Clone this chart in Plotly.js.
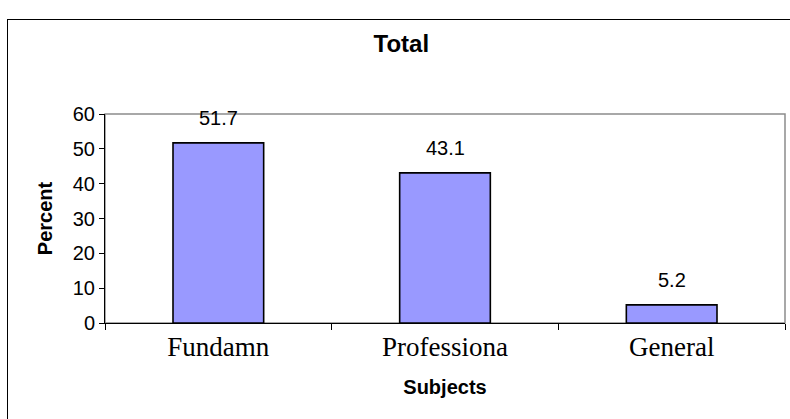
<!DOCTYPE html>
<html>
<head>
<meta charset="utf-8">
<script src="https://cdn.plot.ly/plotly-3.0.1.min.js"></script>
<style>
  html, body { margin: 0; padding: 0; background: #fff; }
  #wrap { position: relative; width: 790px; height: 419px; overflow: hidden; }
  #chart { width: 790px; height: 419px; }
  #frame { position: absolute; left: 7px; top: 19px; width: 900px; height: 500px; border: 1px solid #000; pointer-events: none; box-sizing: border-box; }
</style>
</head>
<body>
<div id="wrap">
  <div id="chart"></div>
  <div id="frame"></div>
</div>
<script>
const categories = ["Fundamn", "Professiona", "General"];
const percentValues = [51.7, 43.1, 5.2];
const valueLabels = ["51.7", "43.1", "5.2"];
const yTickValues = [0, 10, 20, 30, 40, 50, 60];

const SANS = "Liberation Sans, Arial, sans-serif";
const SERIF = "Liberation Serif, Times New Roman, serif";

const trace = {
  type: "bar",
  x: categories,
  y: percentValues,
  marker: { color: "#9999FF", line: { color: "#000000", width: 1.6 } },
  hoverinfo: "none"
};

const annotations = categories.map((c, i) => ({
  x: c, y: percentValues[i], xref: "x", yref: "y",
  text: valueLabels[i], showarrow: false,
  yanchor: "bottom", yshift: 12,
  font: { family: SANS, size: 20, color: "#000" }
}));

const layout = {
  width: 790, height: 419,
  margin: { l: 105, r: 5, t: 114, b: 96 },
  paper_bgcolor: "#ffffff",
  plot_bgcolor: "#ffffff",
  showlegend: false,
  bargap: 0.6,
  title: {
    text: "<b>Total</b>",
    font: { family: SANS, size: 24, color: "#000" },
    x: 0.508, xanchor: "center", y: 0.895, yanchor: "middle"
  },
  xaxis: {
    type: "category",
    showline: true, linecolor: "#000", linewidth: 1,
    ticks: "outside", tickson: "boundaries", ticklen: 6, tickcolor: "#000",
    showgrid: false, zeroline: false,
    tickfont: { family: SERIF, size: 27, color: "#000" },
    title: { text: "<b>Subjects</b>", font: { family: SANS, size: 20, color: "#000" }, standoff: 18 }
  },
  yaxis: {
    range: [0, 60], tickvals: yTickValues, ticktext: yTickValues.map(String),
    showline: true, linecolor: "#000", linewidth: 1,
    ticks: "outside", ticklen: 5, tickcolor: "#000",
    showgrid: false, zeroline: false,
    tickfont: { family: SANS, size: 20, color: "#000" },
    title: { text: "<b>Percent</b>", font: { family: SANS, size: 20, color: "#000" }, standoff: 14 }
  },
  shapes: [{
    type: "rect", xref: "paper", yref: "paper", x0: 0, x1: 1, y0: 0, y1: 1,
    line: { color: "#8c8c8c", width: 1.5 }, layer: "below"
  }],
  annotations: annotations
};

Plotly.newPlot("chart", [trace], layout, { staticPlot: true, displayModeBar: false });
</script>
</body>
</html>
